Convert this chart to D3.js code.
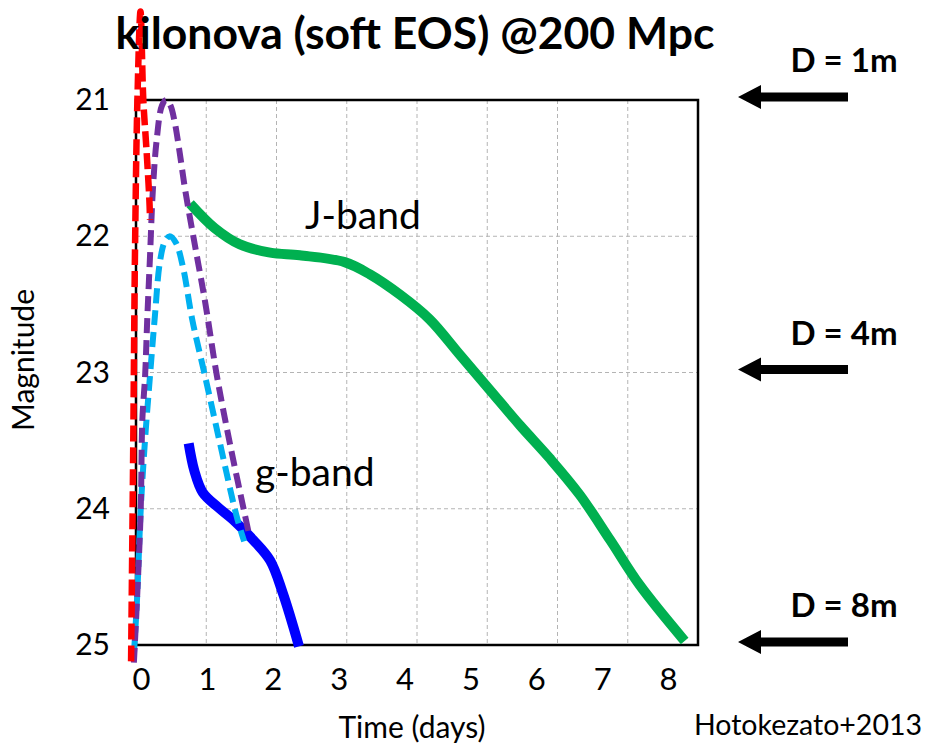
<!DOCTYPE html>
<html><head><meta charset="utf-8">
<script src="https://cdn.jsdelivr.net/npm/d3@7"></script>
<style>body{margin:0;background:#fff}svg{display:block}</style>
</head><body>
<script>
const xTicks = [0,1,2,3,4,5,6,7,8];
const yTicks = [21,22,23,24,25];
const redT = [-0.07,-0.04,-0.014,0.02,0.064,0.104,0.15,0.19,0.2];
const redM = [25.12,23.57,22.1,21.0,20.35,21.0,21.37,21.73,21.88];
const purpleT = [-0.03,0.014,0.067,0.09,0.13,0.16,0.2,0.24,0.295,0.37,0.43,0.49,0.55,0.62,0.7,0.84,0.98,1.15,1.34,1.61];
const purpleM = [25.13,24.67,24.01,23.35,23.02,22.61,22.14,21.66,21.29,21.04,21.0,21.04,21.16,21.38,21.66,22.07,22.47,23.02,23.53,24.19];
const cyanT = [-0.03,0.014,0.067,0.128,0.2,0.27,0.34,0.41,0.48,0.57,0.67,0.8,0.98,1.2,1.43,1.54];
const cyanM = [25.07,24.67,24.01,23.5,23.02,22.58,22.19,22.04,22.0,22.05,22.23,22.61,23.02,23.53,24.05,24.24];
const gT = [0.75,0.83,0.95,1.17,1.38,1.67,1.91,2.09,2.32];
const gM = [23.52,23.72,23.88,23.99,24.08,24.23,24.38,24.62,25.01];
const jT = [0.77,1.12,1.48,1.91,2.33,2.97,3.33,3.76,4.18,4.61,5.04,5.47,5.89,6.32,6.75,7.17,7.81];
const jM = [21.76,21.94,22.06,22.12,22.14,22.19,22.28,22.43,22.61,22.87,23.13,23.39,23.63,23.90,24.23,24.56,24.97];
const limitLabels = ["D = 1m","D = 4m","D = 8m"];
const limitMags = [21,23,25];

const W=926,H=747;
const svg=d3.select("body").append("svg").attr("width",W).attr("height",H);
const x=d3.scaleLinear().domain([0,8]).range([136,698]);
const xl=d3.scaleLinear().domain([0,8]).range([141,668]);
const y=d3.scaleLinear().domain([21,25]).range([100,645]);
const FF="Lato, 'Open Sans', sans-serif";

// grid
svg.append("g").selectAll("line").data(xTicks.slice(1,-1)).join("line")
  .attr("x1",d=>x(d)).attr("x2",d=>x(d)).attr("y1",y(21)).attr("y2",y(25))
  .attr("stroke","#b4b4b4").attr("stroke-width",1).attr("stroke-dasharray","4,3");
svg.append("g").selectAll("line").data(yTicks.slice(1,-1)).join("line")
  .attr("y1",d=>y(d)).attr("y2",d=>y(d)).attr("x1",x(0)).attr("x2",x(8))
  .attr("stroke","#b4b4b4").attr("stroke-width",1).attr("stroke-dasharray","4,3");
// frame
svg.append("rect").attr("x",x(0)).attr("y",y(21)).attr("width",x(8)-x(0)).attr("height",y(25)-y(21))
  .attr("fill","none").attr("stroke","#000").attr("stroke-width",2.5);

// axes
const ax=svg.append("g").attr("transform",`translate(0,${y(25)})`)
  .call(d3.axisBottom(xl).tickValues(xTicks).tickSize(0).tickPadding(23).tickFormat(d3.format("d")));
ax.select(".domain").remove();
ax.selectAll("text").attr("font-family",FF).attr("font-size",31).attr("fill","#000");
const ay=svg.append("g").attr("transform",`translate(${x(0)},0)`)
  .call(d3.axisLeft(y).tickValues(yTicks).tickSize(0).tickPadding(26).tickFormat(d3.format("d")));
ay.select(".domain").remove();
ay.selectAll("text").attr("font-family",FF).attr("font-size",30).attr("fill","#000");

const line=d3.line().x(d=>x(d[0])).y(d=>y(d[1])).curve(d3.curveCatmullRom.alpha(0.5));
const zip=(a,b)=>a.map((v,i)=>[v,b[i]]);

svg.append("path").attr("d",line(zip(jT,jM))).attr("fill","none").attr("stroke","#00b050").attr("stroke-width",10);
svg.append("path").attr("d",line(zip(gT,gM))).attr("fill","none").attr("stroke","#0000ff").attr("stroke-width",10);
svg.append("path").attr("d",line(zip(cyanT,cyanM))).attr("fill","none").attr("stroke","#00b0f0").attr("stroke-width",6).attr("stroke-dasharray","15,7");
svg.append("path").attr("d",line(zip(purpleT,purpleM))).attr("fill","none").attr("stroke","#7030a0").attr("stroke-width",6).attr("stroke-dasharray","15,7");
svg.append("path").attr("d",line(zip(redT,redM))).attr("fill","none").attr("stroke","#ff0000").attr("stroke-width",6.5).attr("stroke-dasharray","16,6");

// texts
svg.append("text").attr("x",415).attr("y",49).attr("text-anchor","middle").attr("font-family",FF)
  .attr("font-weight","bold").attr("font-size",44.5).text("kilonova (soft EOS) @200 Mpc");
svg.append("text").attr("transform","translate(34,360) rotate(-90)").attr("text-anchor","middle")
  .attr("font-family",FF).attr("font-size",30).text("Magnitude");
svg.append("text").attr("x",412).attr("y",738).attr("text-anchor","middle").attr("font-family",FF)
  .attr("font-size",30).text("Time (days)");
svg.append("text").attr("x",922).attr("y",735).attr("text-anchor","end").attr("font-family",FF)
  .attr("font-size",28.5).text("Hotokezato+2013");
svg.append("text").attr("x",305).attr("y",229).attr("font-family",FF).attr("font-size",39).text("J-band");
svg.append("text").attr("x",255).attr("y",486).attr("font-family",FF).attr("font-size",39).text("g-band");

// detection limits
const lim=svg.append("g").selectAll("g").data(limitMags).join("g")
  .attr("transform",d=>`translate(0,${y(d)-3})`);
lim.append("path").attr("d","M738,0 L761,-12 L761,-4.5 L848,-4.5 L848,4.5 L761,4.5 L761,12 Z").attr("fill","#000");
lim.append("text").attr("x",844).attr("y",-25).attr("text-anchor","middle").attr("font-family",FF)
  .attr("font-weight","bold").attr("font-size",33).text((d,i)=>limitLabels[i]);
</script>
</body></html>
